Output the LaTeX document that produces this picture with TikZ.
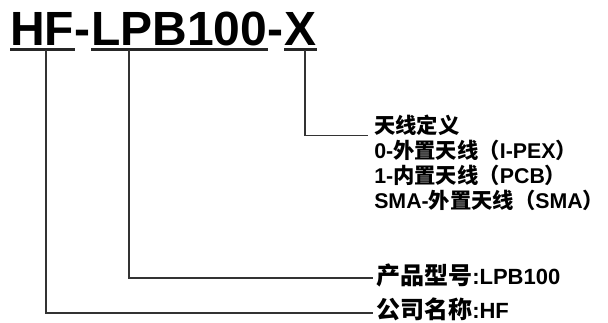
\documentclass[tikz,border=0pt]{standalone}
\usepackage{fontspec}
\setmainfont{Liberation Sans}
\newfontfamily\cjk{Noto Sans CJK SC}
\usetikzlibrary{positioning}
\newcommand{\zh}[1]{{\cjk #1}}
\newcommand{\zhb}[1]{{\cjk\fontsize{18}{20}\selectfont #1}}

\begin{document}
\begin{tikzpicture}[x=0.75pt,y=-0.75pt,
  ttl/.style={inner sep=0,anchor=base west,font=\fontsize{36}{40}\selectfont\bfseries},
  uline/.style={line width=2.25pt,black!85},
  conn/.style={line width=0.9pt,black!80},
  spec/.style={inner sep=0,anchor=base west,font=\fontsize{16}{18}\selectfont\bfseries},
  lbl/.style={inner sep=0,anchor=base west,font=\fontsize{16.5}{20}\selectfont\bfseries}]
\useasboundingbox (0,0) rectangle (608,322);

% part number
\node[ttl] (hf) at (10,45) {HF};
\node[ttl] (dashA) at (hf.base east) {-};
\node[ttl] (lpb) at (dashA.base east) {LPB100};
\node[ttl] (dashB) at (lpb.base east) {-};
\node[ttl] (ant) at (dashB.base east) {X};
\foreach \n in {hf,lpb,ant} {
\draw[uline] ([yshift=-3pt]\n.base west) -- ([yshift=-3pt]\n.base east);
}
\coordinate (hfTap) at (46,50);
\coordinate (lpbTap) at (129,50);
\coordinate (antTap) at (305,50);

% antenna options
\node[spec] (antDef) at (374,133.5) {\zh{天线定义}};
\node[spec] (antExt) at (374,158.5) {0-\zh{外置天线（}I-PEX\zh{）}};
\node[spec] (antPcb) at (374,183.5) {1-\zh{内置天线（}PCB\zh{）}};
\node[spec] (antSma) at (374,208.5) {SMA-\zh{外置天线（}SMA\zh{）}};

% model and company
\node[lbl] (prodName) at (376,284) {\zhb{产品型号}:LPB100};
\node[lbl] (coName) at (376,318) {\zhb{公司名称}:HF};

\draw[conn] (antTap) |- ([xshift=-4.5pt,yshift=-1.5pt]antDef.base west);
\draw[conn] (lpbTap) |- ([xshift=-2pt,yshift=4.5pt]prodName.base west);
\draw[conn] (hfTap) |- ([xshift=-2pt,yshift=3.75pt]coName.base west);

\end{tikzpicture}
\end{document}
